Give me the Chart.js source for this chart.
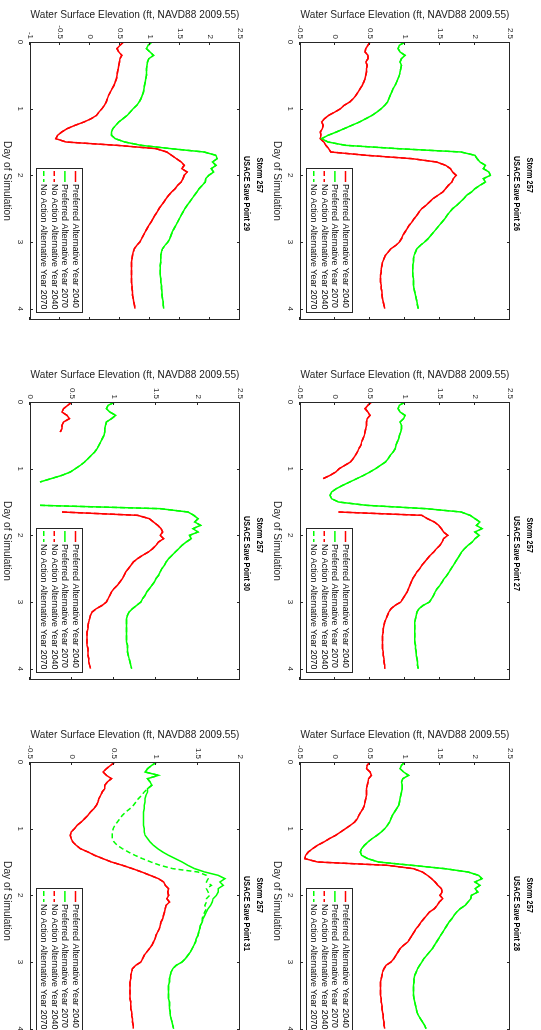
<!DOCTYPE html>
<html>
<head>
<meta charset="utf-8">
<script src="https://cdn.jsdelivr.net/npm/chart.js@4.4.1/dist/chart.umd.min.js"></script>
<style>
  html, body { margin: 0; padding: 0; background: #fff; overflow: hidden; width: 541px; height: 1030px; }
  /* the figure is laid out landscape, then turned a quarter turn clockwise */
  #fig { position: absolute; left: 0; top: 0; width: 1080px; height: 540px;
         transform-origin: 0 0; transform: translate(541px, 0) rotate(90deg); }
  .panel { position: absolute; width: 360px; height: 270px; }
</style>
</head>
<body>
<div id="fig"></div>
<script>
const days = [0,0.05,0.1,0.15,0.2,0.25,0.3,0.35,0.4,0.45,
  0.5,0.55,0.6,0.65,0.7,0.75,0.8,0.85,0.9,0.95,
  1,1.05,1.1,1.15,1.2,1.25,1.3,1.35,1.4,1.45,
  1.5,1.55,1.6,1.65,1.7,1.75,1.8,1.85,1.9,1.95,
  2,2.05,2.1,2.15,2.2,2.25,2.3,2.35,2.4,2.45,
  2.5,2.55,2.6,2.65,2.7,2.75,2.8,2.85,2.9,2.95,
  3,3.05,3.1,3.15,3.2,3.25,3.3,3.35,3.4,3.45,
  3.5,3.55,3.6,3.65,3.7,3.75,3.8,3.85,3.9,3.95,
  4];

const sp26Pref2040 = [0.5,0.47,0.44,0.43,0.47,0.47,0.44,0.46,0.45,0.45,
  0.44,0.43,0.41,0.39,0.36,0.33,0.3,0.26,0.21,0.13,
  0.08,0.0,-0.09,-0.15,-0.19,-0.17,-0.18,-0.21,-0.2,-0.21,
  -0.16,-0.13,-0.09,-0.06,0.45,1.1,1.45,1.58,1.65,1.68,
  1.73,1.69,1.67,1.62,1.58,1.54,1.47,1.4,1.35,1.3,
  1.24,1.2,1.17,1.13,1.1,1.06,1.03,1.0,0.97,0.95,
  0.92,0.87,0.8,0.76,0.72,0.7,0.68,0.67,0.66,0.66,
  0.65,0.65,0.65,0.66,0.66,0.67,0.67,0.68,0.69,0.7,
  0.71];
const sp26Pref2070 = [1.0,0.92,0.9,0.93,1.0,0.95,0.93,0.95,0.94,0.93,
  0.92,0.9,0.88,0.86,0.83,0.81,0.79,0.77,0.75,0.71,
  0.66,0.6,0.53,0.44,0.35,0.24,0.13,0.02,-0.1,-0.19,
  -0.1,0.15,0.9,1.8,2.0,2.03,2.07,2.15,2.12,2.2,
  2.22,2.12,2.15,2.07,2.0,1.95,1.88,1.84,1.79,1.74,
  1.68,1.64,1.6,1.57,1.53,1.49,1.45,1.41,1.37,1.33,
  1.28,1.22,1.17,1.15,1.13,1.12,1.12,1.11,1.11,1.11,
  1.11,1.12,1.12,1.12,1.13,1.14,1.15,1.16,1.17,1.18,
  1.19];

const sp27Pref2040 = [0.52,0.47,0.43,0.47,0.5,0.46,0.45,0.45,0.44,0.43,
  0.42,0.4,0.38,0.37,0.34,0.32,0.29,0.26,0.22,0.14,
  0.06,0.01,-0.07,-0.17,null,null,null,null,null,null,
  null,null,null,0.05,1.24,1.32,1.42,1.48,1.52,1.55,
  1.61,1.55,1.53,1.5,1.45,1.41,1.36,1.32,1.28,1.24,
  1.21,1.17,1.14,1.11,1.09,1.07,1.05,1.03,1.0,0.97,
  0.94,0.86,0.8,0.77,0.75,0.73,0.71,0.7,0.69,0.69,
  0.68,0.68,0.68,0.68,0.68,0.69,0.69,0.7,0.7,0.71,
  0.71];
const sp27Pref2070 = [1.0,0.92,0.9,0.93,1.0,0.98,0.93,0.95,0.95,0.94,
  0.92,0.91,0.89,0.87,0.86,0.83,0.79,0.76,0.72,0.65,
  0.58,0.5,0.41,0.31,0.21,0.11,0.02,-0.05,-0.07,-0.05,
  0.05,0.45,1.3,1.8,1.93,2.0,2.07,2.02,2.1,2.0,
  2.06,2.0,1.96,1.9,1.85,1.81,1.78,1.75,1.72,1.69,
  1.66,1.63,1.6,1.56,1.53,1.5,1.46,1.43,1.41,1.38,
  1.35,1.26,1.2,1.17,1.16,1.15,1.14,1.14,1.14,1.14,
  1.14,1.14,1.14,1.15,1.15,1.16,1.16,1.17,1.18,1.18,
  1.19];

const sp28Pref2040 = [0.5,0.46,0.45,0.5,0.52,0.48,0.47,0.46,0.45,0.45,
  0.45,0.44,0.43,0.42,0.4,0.37,0.34,0.32,0.28,0.22,
  0.15,0.08,0.01,-0.08,-0.16,-0.25,-0.32,-0.38,-0.42,-0.43,
  -0.25,0.75,1.12,1.25,1.32,1.38,1.43,1.47,1.52,1.53,
  1.5,1.54,1.49,1.46,1.42,1.35,1.31,1.27,1.23,1.2,
  1.16,1.13,1.1,1.07,1.04,0.98,0.93,0.9,0.87,0.84,
  0.8,0.73,0.7,0.68,0.67,0.66,0.65,0.65,0.65,0.65,
  0.65,0.66,0.66,0.67,0.67,0.68,0.69,0.69,0.7,0.7,
  0.71];
const sp28Pref2070 = [1.0,0.95,0.93,0.98,1.05,0.97,0.95,0.96,0.96,0.95,
  0.94,0.93,0.92,0.91,0.88,0.85,0.82,0.8,0.78,0.75,
  0.71,0.66,0.6,0.53,0.47,0.42,0.38,0.36,0.38,0.47,
  0.62,1.1,1.57,1.9,2.05,2.1,2.0,2.07,2.0,2.04,
  1.95,1.94,1.9,1.86,1.79,1.74,1.7,1.67,1.63,1.6,
  1.57,1.54,1.51,1.48,1.45,1.42,1.39,1.35,1.31,1.27,
  1.24,1.21,1.18,1.16,1.14,1.13,1.13,1.12,1.12,1.12,
  1.12,1.13,1.14,1.15,1.16,1.17,1.19,1.22,1.25,1.28,
  1.3];

const sp29Pref2040 = [0.56,0.5,0.45,0.48,0.53,0.5,0.49,0.48,0.47,0.46,
  0.45,0.44,0.42,0.4,0.37,0.34,0.31,0.29,0.27,0.24,
  0.2,0.15,0.11,0.02,-0.1,-0.25,-0.38,-0.47,-0.54,-0.57,
  -0.4,0.45,1.1,1.28,1.36,1.44,1.52,1.57,1.53,1.62,
  1.57,1.55,1.52,1.46,1.42,1.36,1.31,1.27,1.23,1.19,
  1.15,1.12,1.08,1.05,1.02,0.98,0.95,0.92,0.89,0.86,
  0.83,0.78,0.74,0.72,0.71,0.7,0.69,0.69,0.69,0.69,
  0.69,0.69,0.69,0.7,0.7,0.71,0.71,0.72,0.73,0.74,
  0.75];
const sp29Pref2070 = [1.03,0.97,0.94,1.0,1.06,0.98,0.96,0.95,0.94,0.94,
  0.94,0.93,0.92,0.91,0.9,0.89,0.87,0.85,0.82,0.78,
  0.72,0.67,0.62,0.55,0.48,0.43,0.38,0.36,0.36,0.42,
  0.58,0.85,1.35,1.9,2.1,2.12,2.04,2.1,2.02,2.06,
  1.98,1.93,1.92,1.87,1.82,1.78,1.74,1.7,1.66,1.62,
  1.58,1.55,1.52,1.49,1.46,1.43,1.4,1.37,1.35,1.33,
  1.3,1.25,1.21,1.19,1.18,1.18,1.18,1.17,1.17,1.17,
  1.17,1.18,1.18,1.19,1.19,1.2,1.2,1.21,1.22,1.22,
  1.23];

const sp30Pref2040 = [0.5,0.45,0.4,0.38,0.44,0.47,0.4,0.38,0.38,0.36,
  null,null,null,null,null,null,null,null,null,null,
  null,null,null,null,null,null,null,null,null,null,
  null,null,null,0.38,1.28,1.42,1.47,1.52,1.56,1.58,
  1.55,1.59,1.53,1.5,1.46,1.41,1.34,1.28,1.23,1.2,
  1.17,1.14,1.12,1.1,1.07,1.04,1.0,0.97,0.95,0.93,
  0.91,0.86,0.79,0.74,0.72,0.71,0.7,0.69,0.69,0.68,
  0.68,0.68,0.68,0.68,0.69,0.69,0.69,0.7,0.7,0.71,
  0.72];
const sp30Pref2070 = [1.01,0.93,0.91,0.95,1.02,0.97,0.91,0.9,0.89,0.89,
  0.88,0.86,0.84,0.82,0.8,0.77,0.73,0.69,0.65,0.6,
  0.54,0.48,0.38,0.25,0.12,null,null,null,null,null,
  null,0.12,1.55,1.88,1.95,2.0,1.96,2.03,1.94,2.0,
  1.9,1.92,1.86,1.81,1.77,1.73,1.69,1.65,1.62,1.6,
  1.57,1.55,1.53,1.5,1.48,1.45,1.42,1.39,1.37,1.34,
  1.32,1.27,1.22,1.18,1.16,1.15,1.15,1.15,1.15,1.15,
  1.15,1.15,1.15,1.16,1.16,1.16,1.17,1.18,1.19,1.2,
  1.21];

const sp31Pref2040 = [0.51,0.46,0.41,0.37,0.41,0.47,0.42,0.39,0.39,0.36,
  0.34,0.32,0.31,0.29,0.26,0.22,0.19,0.15,0.11,0.06,
  0.03,-0.01,-0.02,-0.01,0.01,0.05,0.1,0.19,0.27,0.37,
  0.47,0.6,0.72,0.83,0.93,1.03,1.09,1.11,1.15,1.14,
  1.15,1.13,1.16,1.12,1.11,1.1,1.09,1.08,1.06,1.05,
  1.04,1.02,1.0,0.99,0.97,0.95,0.92,0.89,0.86,0.84,
  0.82,0.76,0.72,0.71,0.7,0.7,0.69,0.69,0.69,0.69,
  0.69,0.69,0.7,0.7,0.7,0.71,0.71,0.72,0.72,0.73,
  0.73];
const sp31Pref2070 = [1.01,0.95,0.9,0.87,1.03,0.9,0.93,0.95,0.9,0.9,
  0.88,0.87,0.87,0.86,0.86,0.85,0.85,0.85,0.85,0.85,
  0.86,0.86,0.87,0.9,0.93,0.97,1.02,1.08,1.15,1.23,
  1.31,1.38,1.46,1.58,1.74,1.82,1.76,1.8,1.74,1.74,
  1.72,1.68,1.67,1.65,1.62,1.6,1.58,1.56,1.55,1.53,
  1.52,1.51,1.5,1.48,1.47,1.45,1.43,1.41,1.38,1.35,
  1.31,1.24,1.2,1.18,1.17,1.16,1.16,1.15,1.15,1.15,
  1.15,1.15,1.16,1.16,1.16,1.17,1.17,1.18,1.19,1.2,
  1.21];
const sp31NoAction2070 = [1.01,0.95,0.9,0.87,1.03,0.9,0.93,0.95,0.9,0.86,
  0.83,0.79,0.76,0.73,0.69,0.64,0.6,0.57,0.54,0.51,
  0.49,0.48,0.48,0.48,0.5,0.54,0.6,0.67,0.75,0.84,
  0.94,1.05,1.2,1.5,1.6,1.62,1.6,1.66,1.6,1.62,
  1.64,1.6,1.6,1.58,1.6,1.58,1.56,1.55,1.55,1.53,
  1.52,1.51,1.5,1.48,1.47,1.45,1.43,1.41,1.38,1.35,
  1.31,1.24,1.2,1.18,1.17,1.16,1.16,1.15,1.15,1.15,
  1.15,1.15,1.16,1.16,1.16,1.17,1.17,1.18,1.19,1.2,
  1.21];

const seriesLabels = ['Preferred Alternative Year 2040', 'Preferred Alternative Year 2070',
  'No Action Alternative Year 2040', 'No Action Alternative Year 2070'];
const seriesColors = ['#ff0000', '#00ff00', '#ff0000', '#00ff00'];
const seriesDash = [[], [], [5, 3], [5, 3]];

// the No Action runs sit right on top of the Preferred ones except at point 31
const savePoints = ['26', '27', '28', '29', '30', '31'];
const panelSeries = [
  [sp26Pref2040, sp26Pref2070, sp26Pref2040, sp26Pref2070],
  [sp27Pref2040, sp27Pref2070, sp27Pref2040, sp27Pref2070],
  [sp28Pref2040, sp28Pref2070, sp28Pref2040, sp28Pref2070],
  [sp29Pref2040, sp29Pref2070, sp29Pref2040, sp29Pref2070],
  [sp30Pref2040, sp30Pref2070, sp30Pref2040, sp30Pref2070],
  [sp31Pref2040, sp31Pref2070, sp31Pref2040, sp31NoAction2070]
];
const yMins = [-0.5, -0.5, -0.5, -1, 0, -0.5];
const yMaxs = [2.5, 2.5, 2.5, 2.5, 2.5, 2];

const FONT = '"Liberation Sans", Arial, sans-serif';
const AXIS_GREY = '#262626';

// box with inward ticks on all four sides, legend inside, two-line bold title
const matlabAxes = {
  id: 'matlabAxes',
  afterDatasetsDraw(chart) {
    const { ctx, chartArea: a, scales: { x, y } } = chart;
    ctx.save();
    ctx.strokeStyle = AXIS_GREY;
    ctx.lineWidth = 1;
    ctx.beginPath();
    x.ticks.forEach(t => {
      const px = Math.round(x.getPixelForValue(t.value)) + 0.5;
      ctx.moveTo(px, a.bottom); ctx.lineTo(px, a.bottom - 3);
      ctx.moveTo(px, a.top); ctx.lineTo(px, a.top + 3);
    });
    y.ticks.forEach(t => {
      const py = Math.round(y.getPixelForValue(t.value)) + 0.5;
      ctx.moveTo(a.left, py); ctx.lineTo(a.left + 3, py);
      ctx.moveTo(a.right, py); ctx.lineTo(a.right - 3, py);
    });
    ctx.stroke();
    ctx.strokeRect(a.left + 0.5, a.top + 0.5, a.width - 1, a.height - 1);

    // legend, lower right corner
    const w = 144, h = 46;
    const x0 = Math.round(a.right - 8 - w), y0 = Math.round(a.bottom - 7 - h);
    ctx.fillStyle = '#fff';
    ctx.fillRect(x0, y0, w, h);
    ctx.strokeRect(x0 + 0.5, y0 + 0.5, w, h);
    ctx.font = '8.9px ' + FONT;
    ctx.textBaseline = 'middle';
    ctx.textAlign = 'left';
    chart.data.datasets.forEach((ds, i) => {
      const yy = y0 + 7.5 + i * 10.6;
      ctx.strokeStyle = ds.borderColor;
      ctx.lineWidth = 1.5;
      ctx.setLineDash(ds.borderDash);
      ctx.beginPath();
      ctx.moveTo(x0 + 3, yy); ctx.lineTo(x0 + 14, yy);
      ctx.stroke();
      ctx.setLineDash([]);
      ctx.fillStyle = '#000';
      ctx.fillText(ds.label, x0 + 16, yy);
    });
    ctx.restore();
  },
  afterDraw(chart, args, opts) {
    const { ctx } = chart;
    ctx.save();
    ctx.fillStyle = '#000';
    ctx.textBaseline = 'middle';
    ctx.textAlign = 'left';
    ctx.font = 'bold 9.6px ' + FONT;
    // title face is narrower than the rest of the text
    ctx.translate(156, 0);
    ctx.scale(0.76, 1);
    ctx.fillText('Storm 257', 2, 11);
    ctx.fillText('USACE Save Point ' + opts.point, 0, 24);
    ctx.restore();
  }
};

const fig = document.getElementById('fig');

savePoints.forEach((pt, k) => {
  const box = document.createElement('div');
  box.className = 'panel';
  box.style.left = (360 * (k % 3)) + 'px';
  box.style.top = (270 * Math.floor(k / 3)) + 'px';
  const canvas = document.createElement('canvas');
  canvas.width = 360;
  canvas.height = 270;
  box.appendChild(canvas);
  fig.appendChild(box);

  const datasets = panelSeries[k].map((vals, i) => ({
    label: seriesLabels[i],
    data: vals,
    borderColor: seriesColors[i],
    borderWidth: 1.5,
    borderDash: seriesDash[i],
    pointRadius: 0,
    tension: 0,
    spanGaps: false,
    order: 3 - i
  }));

  new Chart(canvas.getContext('2d'), {
    type: 'line',
    data: { labels: days, datasets: datasets },
    options: {
      responsive: false,
      animation: false,
      events: [],
      layout: { padding: { left: 0, top: 31, right: 40, bottom: 0 } },
      plugins: {
        legend: { display: false },
        tooltip: { enabled: false },
        matlabAxes: { point: pt }
      },
      scales: {
        x: {
          type: 'linear',
          min: 0,
          max: 4.17,
          grid: { display: false, drawTicks: false },
          border: { display: false },
          ticks: { stepSize: 1, includeBounds: false, padding: 5, color: AXIS_GREY,
                   font: { family: FONT, size: 8 }, maxRotation: 0 },
          title: { display: true, text: 'Day of Simulation', color: AXIS_GREY,
                   font: { family: FONT, size: 10.2 }, padding: { top: 0, bottom: 0 } },
          afterFit: s => { s.height = 29; }
        },
        y: {
          min: yMins[k],
          max: yMaxs[k],
          grid: { display: false, drawTicks: false },
          border: { display: false },
          ticks: { stepSize: 0.5, padding: 3, color: AXIS_GREY,
                   font: { family: FONT, size: 8 },
                   callback: v => String(Math.round(v * 100) / 100) },
          title: { display: true, text: 'Water Surface Elevation (ft, NAVD88 2009.55)', color: AXIS_GREY,
                   font: { family: FONT, size: 10.2 }, padding: { top: 9, bottom: 0 } },
          afterFit: s => { s.width = 42; }
        }
      }
    },
    plugins: [matlabAxes]
  });
});
</script>
</body>
</html>
